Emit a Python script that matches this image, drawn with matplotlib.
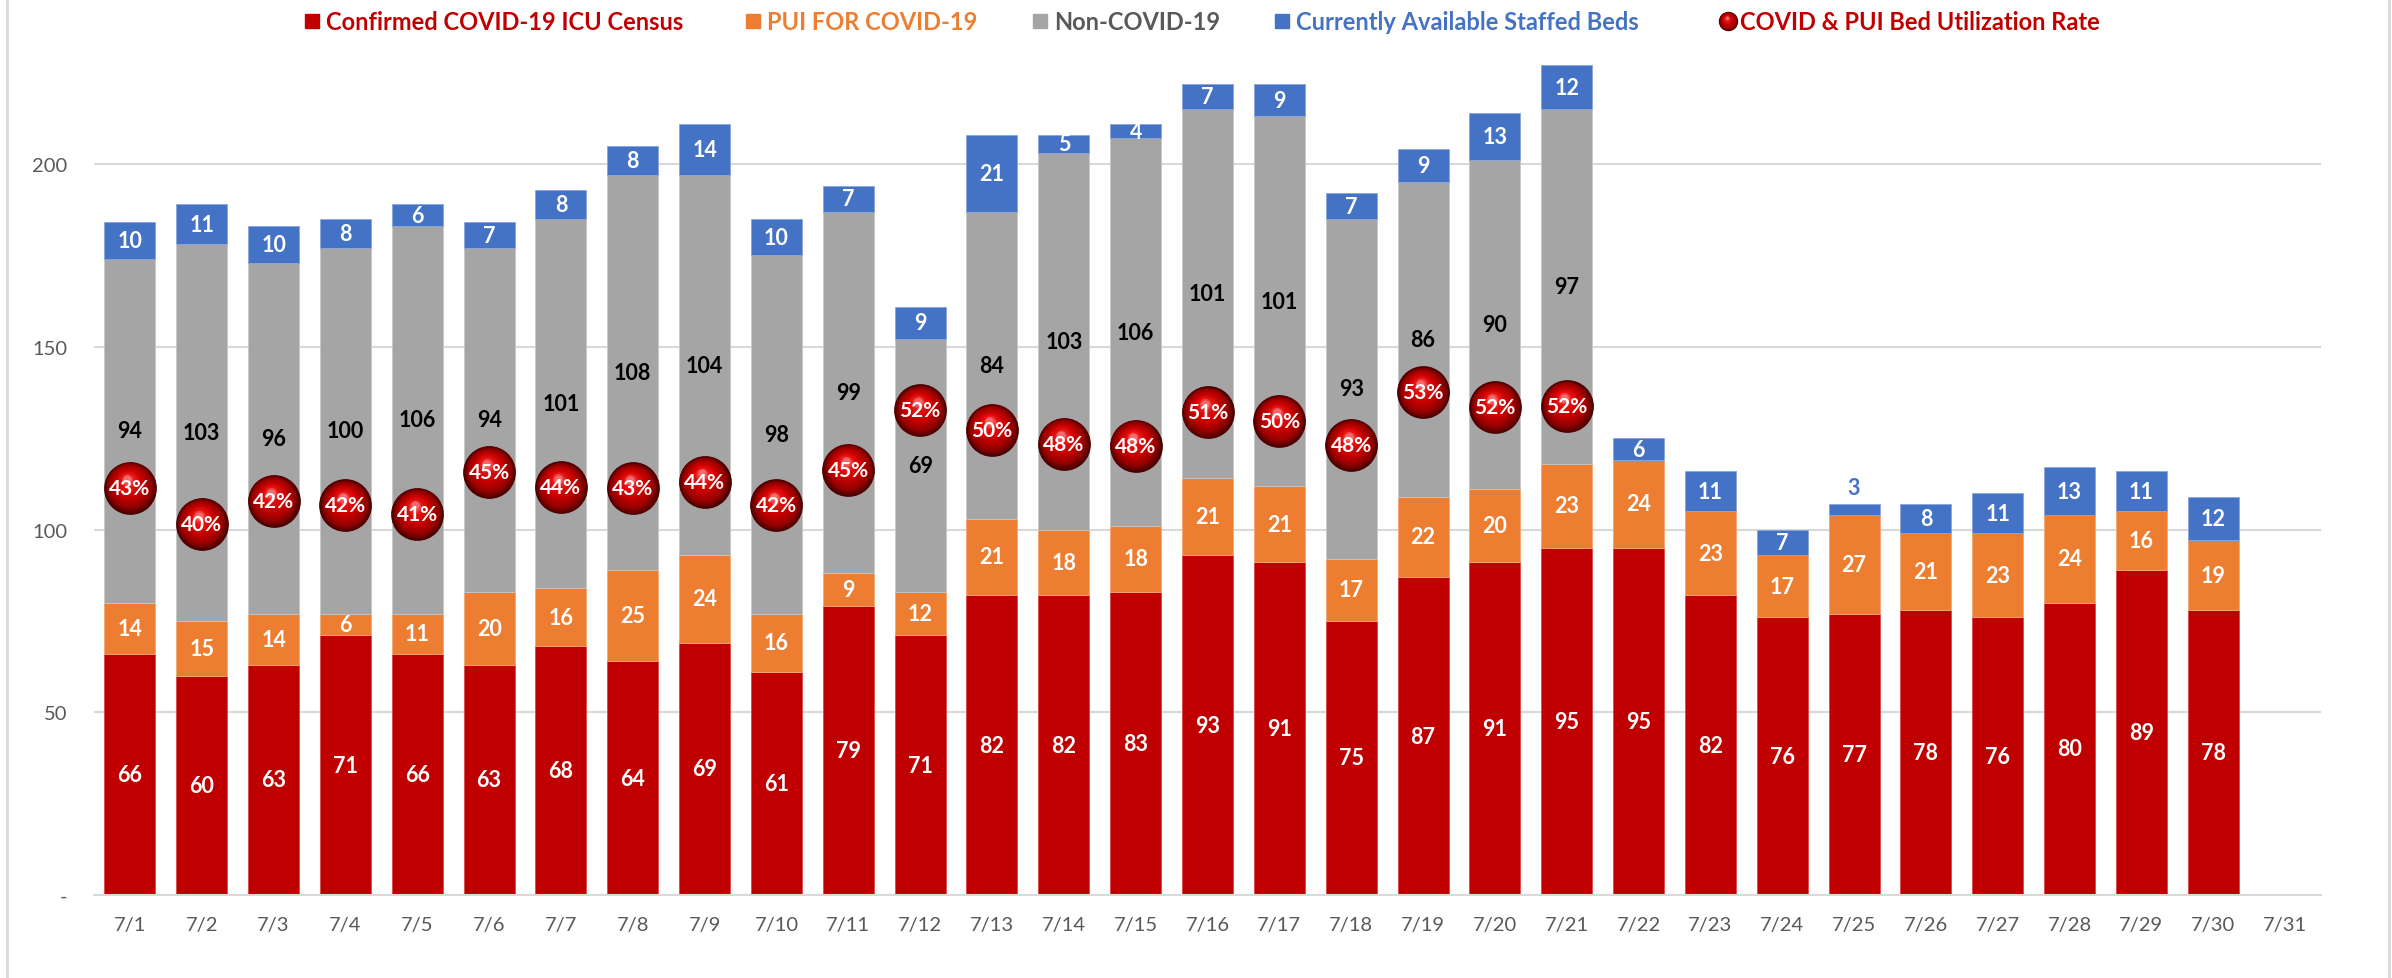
import numpy as np
import matplotlib.pyplot as plt
from matplotlib.lines import Line2D
from matplotlib.patches import Rectangle
from matplotlib.transforms import offset_copy

plt.rcParams['font.family'] = ['Lato', 'DejaVu Sans']

# data
dates = ['7/1', '7/2', '7/3', '7/4', '7/5', '7/6', '7/7', '7/8', '7/9', '7/10',
         '7/11', '7/12', '7/13', '7/14', '7/15', '7/16', '7/17', '7/18', '7/19', '7/20',
         '7/21', '7/22', '7/23', '7/24', '7/25', '7/26', '7/27', '7/28', '7/29', '7/30', '7/31']
confirmed = [66, 60, 63, 71, 66, 63, 68, 64, 69, 61, 79, 71, 82, 82, 83, 93, 91, 75, 87, 91,
             95, 95, 82, 76, 77, 78, 76, 80, 89, 78]
pui = [14, 15, 14, 6, 11, 20, 16, 25, 24, 16, 9, 12, 21, 18, 18, 21, 21, 17, 22, 20,
       23, 24, 23, 17, 27, 21, 23, 24, 16, 19]
non_covid = [94, 103, 96, 100, 106, 94, 101, 108, 104, 98, 99, 69, 84, 103, 106, 101, 101, 93, 86, 90,
             97, 0, 0, 0, 0, 0, 0, 0, 0, 0]
available = [10, 11, 10, 8, 6, 7, 8, 8, 14, 10, 7, 9, 21, 5, 4, 7, 9, 7, 9, 13,
             12, 6, 11, 7, 3, 8, 11, 13, 11, 12]
util_rate = [0.4348, 0.3968, 0.4208, 0.4162, 0.4074, 0.4511, 0.4352, 0.4341, 0.4408, 0.4162,
             0.4536, 0.5155, 0.4952, 0.4808, 0.4787, 0.5135, 0.5045, 0.4792, 0.5343, 0.5187,
             0.5198]

RED = '#C00000'
ORANGE = '#ED7D31'
GRAY = '#A5A5A5'
BLUE = '#4472C4'
GRID = '#D9D9D9'
TXT = '#595959'

W, H = 2392, 979
fig = plt.figure(figsize=(W / 100, H / 100), dpi=100)
ax = fig.add_axes([94 / W, 83 / H, (2321 - 94) / W, 840 / H])

x = np.arange(len(dates))
n = len(confirmed)
xb = x[:n]
conf = np.array(confirmed)
p = np.array(pui)
nc = np.array(non_covid)
av = np.array(available)

bw = 0.71
ax.bar(xb, conf, bw, color=RED, edgecolor='#d84a4a', linewidth=0.6, zorder=2)
ax.bar(xb, p, bw, bottom=conf, color=ORANGE, edgecolor='#f4a877', linewidth=0.6, zorder=2)
ax.bar(xb, nc, bw, bottom=conf + p, color=GRAY, edgecolor='#c8c8c8', linewidth=0.6, zorder=2)
ax.bar(xb, av, bw, bottom=conf + p + nc, color=BLUE, edgecolor='#8aa6dc', linewidth=0.6, zorder=2)

lab = dict(ha='center', va='center', fontsize=15.5, fontweight='bold', zorder=4)
for i in range(n):
    ax.text(xb[i], conf[i] / 2, str(conf[i]), color='white', **lab)
    ax.text(xb[i], conf[i] + p[i] / 2, str(p[i]), color='white', **lab)
    if nc[i] > 0:
        ax.text(xb[i], conf[i] + p[i] + nc[i] / 2, str(nc[i]), color='black', **lab)
    top = conf[i] + p[i] + nc[i]
    if av[i] < 4:
        ax.text(xb[i], top + av[i] + 4.5, str(av[i]), color=BLUE, **lab)
    else:
        ax.text(xb[i], top + av[i] / 2, str(av[i]), color='white', **lab)

ax.set_xlim(-0.5, len(dates) - 0.5)
ax.set_ylim(0, 840 / 3.655)
ax.set_xticks(x)
ax.set_xticklabels(dates)
ax.set_yticks([0, 50, 100, 150, 200])
ax.set_yticklabels(['-', '50', '100', '150', '200'])
ax.tick_params(axis='x', length=0, pad=15, labelsize=14.5, labelcolor=TXT)
ax.tick_params(axis='y', length=0, pad=19, labelsize=14.5, labelcolor=TXT)
ax.grid(axis='y', color=GRID, linewidth=1.5, zorder=0)
ax.set_axisbelow(True)
for s in ['top', 'right', 'left']:
    ax.spines[s].set_visible(False)
ax.spines['bottom'].set_color(GRID)
ax.spines['bottom'].set_linewidth(1.5)

# utilization rate on a hidden secondary axis
ax2 = ax.twinx()
ax2.set_ylim(0.0099, 0.886)
ax2.set_axis_off()

stops_t = [0.0, 0.2, 0.55, 0.85, 1.0]
stops_c = [(0.30, 0.0, 0.0), (0.58, 0.0, 0.0), (0.80, 0.0, 0.0), (0.90, 0.08, 0.08), (0.96, 0.42, 0.42)]


def draw_ball(axis, xs, ys, size, base):
    steps = 16
    for k in range(steps):
        t = k / (steps - 1)
        col = [np.interp(t, stops_t, [c[j] for c in stops_c]) for j in range(3)]
        tr = offset_copy(base, fig=fig, x=-size * 0.05 * t, y=size * 0.16 * t, units='points')
        axis.plot(xs, ys, 'o', ms=size * (1 - 0.85 * t), color=col, mec='none',
                  transform=tr, zorder=6 + k * 0.01, clip_on=False)


ux = x[:len(util_rate)]
draw_ball(ax2, ux, util_rate, 38, ax2.transData)
for xi, r in zip(ux, util_rate):
    ax2.text(xi, r, f"{round(r * 100)}%", color='white', ha='center', va='center',
             fontsize=15, fontweight='bold', zorder=10)

# legend drawn by hand along the top
ly = 1 - 22 / H
items = [(305, RED, 'Confirmed COVID-19 ICU Census', RED),
         (746, ORANGE, 'PUI FOR COVID-19', ORANGE),
         (1033, GRAY, 'Non-COVID-19', TXT),
         (1275, BLUE, 'Currently Available Staffed Beds', BLUE)]
for px, col, txt, tcol in items:
    fig.add_artist(Rectangle((px / W, ly - 7 / H), 14 / W, 14 / H, color=col,
                             transform=fig.transFigure))
    fig.text((px + 21) / W, ly, txt, color=tcol, fontsize=17, fontweight='bold',
             va='center', ha='left')

legax = fig.add_axes([0, 0, 1, 1], facecolor='none')
legax.set_axis_off()
legax.set_xlim(0, 1)
legax.set_ylim(0, 1)
draw_ball(legax, [1728 / W], [ly], 14, legax.transData)
fig.text(1740 / W, ly, 'COVID & PUI Bed Utilization Rate', color=RED, fontsize=17,
         fontweight='bold', va='center', ha='left')

# thin frame lines at the sides
for fx in [7, 2389]:
    fig.add_artist(Line2D([fx / W, fx / W], [0, 1], color=GRID, linewidth=2,
                          transform=fig.transFigure))

fig.savefig('out.png', dpi=100)
